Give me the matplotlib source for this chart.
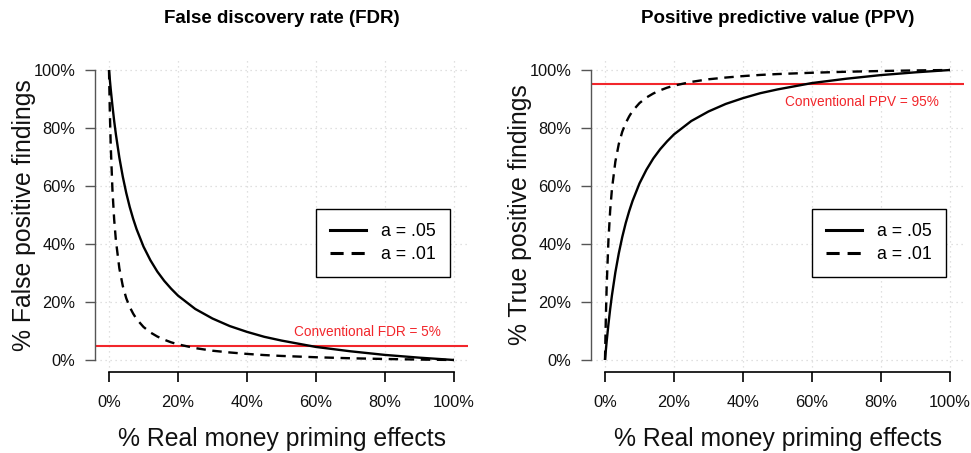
import matplotlib
matplotlib.use("Agg")
import matplotlib.pyplot as plt
from matplotlib.lines import Line2D

plt.rcParams['font.family'] = ['Liberation Sans', 'DejaVu Sans']

# % real money priming effects (x)
x_pct = [0, 0.25, 0.5, 1, 1.5, 2, 3, 4, 5, 6, 7, 8, 10, 12, 14, 16, 18, 20,
         25, 30, 35, 40, 45, 50, 60, 70, 80, 90, 100]

# FDR panel (% false positive findings)
fdr_a05 = [100, 96.6, 93.4, 87.6, 82.4, 77.8, 69.8, 63.2, 57.6, 52.8, 48.7, 45.1,
           39.1, 34.4, 30.5, 27.3, 24.6, 22.2, 17.6, 14.3, 11.7, 9.7, 8.0, 6.7,
           4.5, 3.0, 1.75, 0.8, 0]
fdr_a01 = [100, 85.1, 74.0, 58.6, 48.4, 41.2, 31.6, 25.5, 21.3, 18.3, 16.0, 14.1,
           11.4, 9.5, 8.1, 7.0, 6.1, 5.4, 4.1, 3.2, 2.6, 2.1, 1.7, 1.4,
           0.95, 0.6, 0.35, 0.15, 0]

# PPV panel (% true positive findings)
ppv_a05 = [0, 3.4, 6.6, 12.4, 17.6, 22.2, 30.2, 36.8, 42.4, 47.2, 51.3, 54.9,
           60.9, 65.6, 69.5, 72.7, 75.4, 77.8, 82.4, 85.7, 88.3, 90.3, 92.0, 93.3,
           95.5, 97.0, 98.25, 99.2, 100]
ppv_a01 = [0, 14.9, 26.0, 41.4, 51.6, 58.8, 68.4, 74.5, 78.7, 81.7, 84.0, 85.9,
           88.6, 90.5, 91.9, 93.0, 93.9, 94.6, 95.9, 96.8, 97.4, 97.9, 98.3, 98.6,
           99.05, 99.4, 99.65, 99.85, 100]

ticks = [0, 20, 40, 60, 80, 100]
tick_labels = ['0%', '20%', '40%', '60%', '80%', '100%']
legend_labels = ['a = .05', 'a = .01']
titles = ['False discovery rate (FDR)', 'Positive predictive value (PPV)']
ylabels = ['% False positive findings', '% True positive findings']
xlabel = '% Real money priming effects'
conv_levels = [5, 95]
conv_texts = ['Conventional FDR = 5%', 'Conventional PPV = 95%']
conv_text_y = [9.7, 88.9]
conv_text_x = [96.2, 96.9]

W, H = 971, 453
fig = plt.figure(figsize=(W / 100, H / 100), dpi=100)

red = '#f2262b'
lw = 1.7
dash = (4.0, 2.8)

axes_px = [(95.2, 58.4, 467.8, 371.6), (591.2, 58.4, 963.8, 371.6)]
series = [(fdr_a05, fdr_a01), (ppv_a05, ppv_a01)]

for i, (x0, y0, x1, y1) in enumerate(axes_px):
    ax = fig.add_axes([x0 / W, 1 - y1 / H, (x1 - x0) / W, (y1 - y0) / H])
    ax.set_xlim(-4, 104)
    ax.set_ylim(-4, 104)
    ax.set_xticks(ticks)
    ax.set_yticks(ticks)
    ax.set_xticklabels(tick_labels, fontsize=11.8)
    ax.set_yticklabels(tick_labels, fontsize=11.8)
    ax.grid(True, color='#d6d6d6', linestyle=(0, (1, 3)), linewidth=0.9)
    ax.set_axisbelow(True)
    for s in ['top', 'right']:
        ax.spines[s].set_visible(False)
    ax.spines['left'].set_bounds(0, 100)
    ax.spines['left'].set_color('#555555')
    ax.spines['left'].set_linewidth(1.0)
    ax.spines['bottom'].set_bounds(0, 100)
    ax.spines['bottom'].set_color('black')
    ax.spines['bottom'].set_linewidth(1.2)
    ax.tick_params(axis='y', length=7.2, width=1.0, color='#555555', pad=7, labelcolor='#111111')
    ax.tick_params(axis='x', length=7.2, width=1.2, color='black', pad=10, labelcolor='#111111')

    a05, a01 = series[i]
    ax.plot(x_pct, a05, color='black', lw=lw, solid_capstyle='butt', zorder=3)
    ax.plot(x_pct, a01, color='black', lw=lw, linestyle=(0, dash), zorder=3)
    ax.axhline(conv_levels[i], color=red, lw=1.5, zorder=2)
    ax.text(conv_text_x[i], conv_text_y[i], conv_texts[i], color=red, fontsize=9.8,
            ha='right', va='center')

    handles = [Line2D([0], [0], color='black', lw=2.2),
               Line2D([0], [0], color='black', lw=2.2, linestyle=(0, (4.3, 2.6)))]
    leg = ax.legend(handles, legend_labels, loc='upper left',
                    bbox_to_anchor=(0.5926, 0.519), borderaxespad=0,
                    fontsize=12.8, handlelength=2.0, handletextpad=0.85,
                    borderpad=0.8, labelspacing=0.33, fancybox=False,
                    framealpha=1, edgecolor='black')
    leg.get_frame().set_linewidth(1.0)

    cx = (x0 + x1) / 2
    fig.text(cx / W, 1 - 18.5 / H, titles[i], fontsize=13.5, fontweight='bold',
             ha='center', va='center')
    fig.text(cx / W, 1 - 439 / H, xlabel, fontsize=17.8, ha='center', va='center',
             color='#111111')
    fig.text((x0 - 71.5) / W, 1 - 215 / H, ylabels[i], fontsize=17.8, rotation=90,
             ha='center', va='center', color='#111111')

fig.savefig('out.png', dpi=100)
